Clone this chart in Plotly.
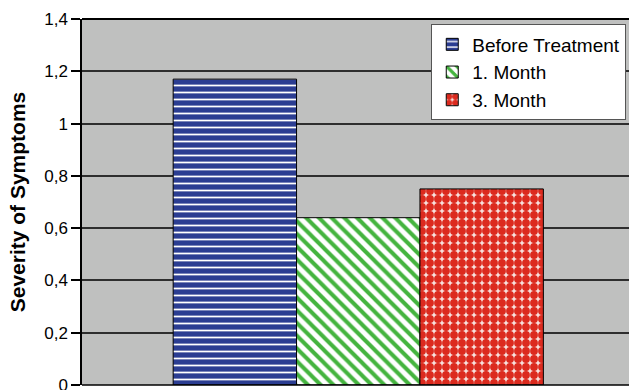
import plotly.graph_objects as go

categories = [""]
series_names = ["Before Treatment", "1. Month", "3. Month"]
values = [[1.17], [0.64], [0.75]]
y_ticks = [0, 0.2, 0.4, 0.6, 0.8, 1.0, 1.2, 1.4]

patterns = [
    dict(shape="-", fgcolor="white", bgcolor="#2b3d92", size=7, solidity=0.25, fillmode="replace"),
    dict(shape="\\", fgcolor="#45b43f", bgcolor="white", size=9, solidity=0.45, fillmode="replace"),
    dict(shape=".", fgcolor="#dc2a1e", bgcolor="#f7e0dc", size=8, solidity=0.75, fillmode="replace"),
]

fig = go.Figure()
for name, vals, pat in zip(series_names, values, patterns):
    fig.add_trace(go.Bar(
        x=categories, y=vals, name=name,
        marker=dict(color=pat["bgcolor"], pattern=pat, line=dict(color="black", width=1)),
    ))

fig.update_layout(
    width=629, height=390,
    margin=dict(l=82, r=0, t=19, b=5),
    barmode="group", bargap=0.33, bargroupgap=0,
    separators=",.",
    paper_bgcolor="white", plot_bgcolor="#bfc0bf",
    font=dict(family="Liberation Sans, Arial, sans-serif", color="black"),
    showlegend=True,
    legend=dict(
        x=0.995, xanchor="right", y=0.985, yanchor="top",
        bgcolor="white", bordercolor="#555555", borderwidth=1,
        font=dict(size=19), tracegroupgap=0, itemwidth=30,
    ),
    xaxis=dict(range=[-0.5, 0.49], showticklabels=False, showgrid=False, zeroline=False,
               showline=False, ticks="", automargin=False),
    yaxis=dict(
        range=[0, 1.4], tickvals=y_ticks, tickformat="~g",
        ticks="outside", ticklen=9, tickcolor="black", tickwidth=1.5,
        ticklabeloverflow="allow", automargin=False,
        showline=True, linecolor="black", linewidth=1.5,
        showgrid=True, gridcolor="#2e2e2e", gridwidth=1.5,
        zeroline=False, mirror=False,
        tickfont=dict(size=17),
        title=dict(text="<b>Severity of Symptoms</b>", font=dict(size=21), standoff=13),
    ),
)
fig.add_shape(type="line", xref="paper", yref="paper", x0=0, x1=1, y0=1, y1=1,
              line=dict(color="black", width=2))
fig.add_shape(type="line", xref="paper", yref="paper", x0=0, x1=1, y0=0, y1=0,
              line=dict(color="black", width=1.5))

fig.write_html("out.html")
